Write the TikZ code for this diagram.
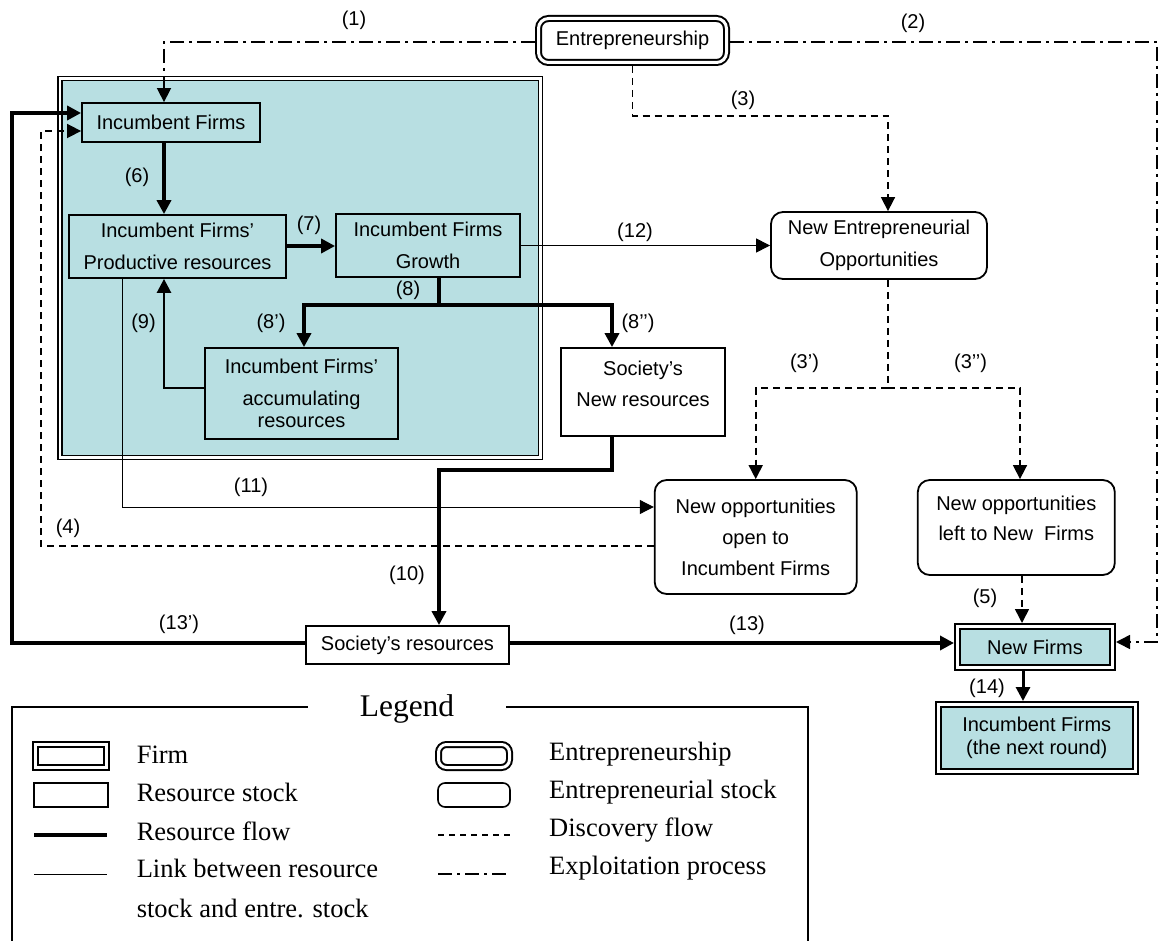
\documentclass[tikz,border=0pt]{standalone}
\usepackage{fontspec}
\setmainfont{Liberation Sans}
\newfontfamily\legfont{Liberation Serif}
\usetikzlibrary{arrows.meta}
\definecolor{tealfill}{RGB}{184,223,226}
\begin{document}
\begin{tikzpicture}[x=1pt,y=-1pt,
  >={Triangle[length=14pt,width=14pt]},
  every node/.style={inner sep=0pt, font=\fontsize{20}{32}\selectfont},
  sbox/.style={draw, line width=1.8pt, align=center},
  tsbox/.style={sbox, fill=tealfill},
  obox/.style={sbox, fill=white, rounded corners=12pt},
  firmbox/.style={draw, line width=2pt, double=white, double distance=3pt, fill=tealfill, outer sep=3.5pt, align=center},
  entbox/.style={firmbox, fill=white, rounded corners=10pt},
  lab/.style={font=\fontsize{20}{24}\selectfont},
  resflow/.style={line width=4pt, ->},
  medflow/.style={line width=2.6pt, ->},
  linkflow/.style={line width=1pt, ->},
  discflow/.style={line width=1.6pt, dash pattern=on 7pt off 5pt, ->},
  explflow/.style={line width=1.6pt, dash pattern=on 14pt off 5pt on 3pt off 5pt, ->},
  legtext/.style={font=\legfont\fontsize{26.5}{30}\selectfont, anchor=base west},
]
\useasboundingbox (0,0) rectangle (1159,941);

% group box
\node[firmbox, line width=1.5pt, double distance=2.5pt, outer sep=0pt, minimum width=480.5, minimum height=378.5] (grp) at (300,268) {};

% boxes
\node[entbox, minimum width=188, minimum height=44] (ent) at (632.5,40.5) {Entrepreneurship};
\node[tsbox, minimum width=178, minimum height=39] (if) at (171,122.5) {Incumbent Firms};
\node[tsbox, minimum width=217, minimum height=63] (pr) at (177.5,246.5) {Incumbent Firms’\\Productive resources};
\node[tsbox, minimum width=184, minimum height=63] (gr) at (428,245.5) {Incumbent Firms\\Growth};
\node[tsbox, minimum width=193, minimum height=91] (acc) at (301.5,393.5) {Incumbent Firms’\\accumulating\\[-10pt]resources};
\node[sbox, fill=white, minimum width=164, minimum height=88] (snr) at (643,392) {};
\node[align=center, font=\fontsize{20}{31}\selectfont] (snrt) at (643,383.5) {Society’s\\New resources};
\node[obox, minimum width=216, minimum height=67] (neo) at (879,245.5) {New Entrepreneurial\\Opportunities};
\node[obox, minimum width=202, minimum height=114, font=\fontsize{20}{31}\selectfont] (nop) at (755.7,537) {New opportunities\\open to\\Incumbent Firms};
\node[obox, minimum width=197, minimum height=95] (nol) at (1016.3,527.5) {};
\node[align=center, font=\fontsize{20}{30}\selectfont] (nolt) at (1016.3,518) {New opportunities\\left to New\ \ Firms};
\node[sbox, fill=white, minimum width=203, minimum height=38] (sr) at (407.5,645) {Society’s resources};
\node[firmbox, minimum width=155, minimum height=41] (nf) at (1035,647) {New Firms};
\node[firmbox, minimum width=196.5, minimum height=67, font=\fontsize{20}{23}\selectfont] (inr) at (1036.75,738) {Incumbent Firms\\(the next round)};

% coordinates
\coordinate (c1) at (164,42);
\coordinate (c2) at (1157,42);
\coordinate (c2b) at (1157,642);
\coordinate (c3a) at (632.5,116);
\coordinate (c3b) at (888,116);
\coordinate (c3c) at (888,388);
\coordinate (c3d) at (755.7,388);
\coordinate (c3e) at (1020,388);
\coordinate (c4a) at (41,546);
\coordinate (c4b) at (41,131);
\coordinate (c5) at (1022,600);
\coordinate (c6) at (164,180);
\coordinate (c7) at (310,246);
\coordinate (c8) at (439,305);
\coordinate (c8a) at (304,305);
\coordinate (c8b) at (612,305);
\coordinate (c9) at (164,388);
\coordinate (c10a) at (612,470);
\coordinate (c10b) at (439,470);
\coordinate (c11) at (122.5,507);
\coordinate (c13a) at (11.5,643);
\coordinate (c13b) at (11.5,113);
\coordinate (c14) at (1023,690);

% connectors
\draw[explflow] (ent.west |- c1) -- (c1) -- (c1 |- if.north);
\draw[explflow] (ent.east |- c2) -- (c2) -- (c2b) -- (nf.east |- c2b);
\draw[discflow] (ent.south) -- (c3a) -- (c3b) -- (c3b |- neo.north);
\draw[discflow, -] (c3c |- neo.south) -- (c3c);
\draw[discflow] (c3c) -- (c3d) -- (c3d |- nop.north);
\draw[discflow] (c3c) -- (c3e) -- (c3e |- nol.north);
\draw[discflow] (nop.west |- c4a) -- (c4a) -- (c4b) -- (if.west |- c4b);
\draw[discflow] (nol.south -| c5) -- (nf.north -| c5);
\draw[resflow] (if.south -| c6) -- (pr.north -| c6);
\draw[resflow] (pr.east |- c7) -- (gr.west |- c7);
\draw[line width=4pt] (gr.south -| c8) -- (c8);
\draw[resflow] (c8) -- (c8a) -- (c8a |- acc.north);
\draw[resflow] (c8) -- (c8b) -- (c8b |- snr.north);
\draw[medflow] (acc.west |- c9) -- (c9) -- (c9 |- pr.south);
\draw[resflow] (snr.south -| c10a) -- (c10a) -- (c10b) -- (c10b |- sr.north);
\draw[linkflow] (pr.south -| c11) -- (c11) -- (nop.west |- c11);
\draw[linkflow] (gr.east) -- (neo.west |- gr.east);
\draw[resflow] (sr.west |- c13a) -- (c13a) -- (c13b) -- (if.west |- c13b);
\draw[resflow] (sr.east |- c13a) -- (nf.west |- c13a);
\draw[resflow, line width=3pt] (nf.south -| c14) -- (inr.north -| c14);

% labels
\node[lab] (l1) at (354,20) {(1)};
\node[lab] (l2) at (913,23) {(2)};
\node[lab] (l3) at (743,100) {(3)};
\node[lab] (l3a) at (804.5,363) {(3’)};
\node[lab] (l3b) at (970.6,363) {(3’’)};
\node[lab] (l4) at (68,528) {(4)};
\node[lab] (l5) at (985,598) {(5)};
\node[lab] (l6) at (137,177) {(6)};
\node[lab] (l7) at (309,225) {(7)};
\node[lab] (l8) at (408,290) {(8)};
\node[lab] (l8a) at (271,323) {(8’)};
\node[lab] (l8b) at (638,323) {(8’’)};
\node[lab] (l9) at (143.5,323) {(9)};
\node[lab] (l10) at (407,575) {(10)};
\node[lab] (l11) at (251,487) {(11)};
\node[lab] (l12) at (635,232) {(12)};
\node[lab] (l13a) at (179,624) {(13’)};
\node[lab] (l13) at (747,625) {(13)};
\node[lab] (l14) at (987,688) {(14)};

% legend
\node[font=\legfont\fontsize{31.5}{34}\selectfont, inner xsep=52pt, anchor=base] (leg) at (407,716.7) {Legend};
\coordinate (lgl) at (12,707);
\coordinate (lgr) at (808,707);
\draw[line width=1.3pt] (leg.west |- lgl) -- (lgl) -- (12,950);
\draw[line width=1.3pt] (leg.east |- lgr) -- (lgr) -- (808,950);

\draw[line width=2pt, double=white, double distance=3pt] (35.5,744.5) rectangle (106.5,767.5);
\draw[line width=1.6pt] (34,783) rectangle (108,807);
\draw[line width=4pt] (34,835) -- (107,835);
\draw[line width=1pt] (34,874) -- (107,874);
\draw[line width=2pt, double=white, double distance=3pt, rounded corners=8pt] (438.5,744.5) rectangle (509.5,767.5);
\draw[line width=1.6pt, rounded corners=7pt] (438,783) rectangle (510,807);
\draw[line width=1.6pt, dash pattern=on 6pt off 5pt] (438,835) -- (510,835);
\draw[line width=1.6pt, dash pattern=on 14pt off 5pt on 3pt off 5pt] (438,874) -- (510,874);

\node[legtext] (t1) at (136.6,763) {Firm};
\node[legtext] (t2) at (136.6,801.5) {Resource stock};
\node[legtext] (t3) at (136.6,840) {Resource flow};
\node[legtext] (t4) at (136.6,877.5) {Link between resource};
\node[legtext] (t5) at (136.6,917.5) {stock and entre. stock};
\node[legtext] (t6) at (549,760) {Entrepreneurship};
\node[legtext] (t7) at (549,798.3) {Entrepreneurial stock};
\node[legtext] (t8) at (549,836.7) {Discovery flow};
\node[legtext] (t9) at (549,874) {Exploitation process};
\end{tikzpicture}
\end{document}
